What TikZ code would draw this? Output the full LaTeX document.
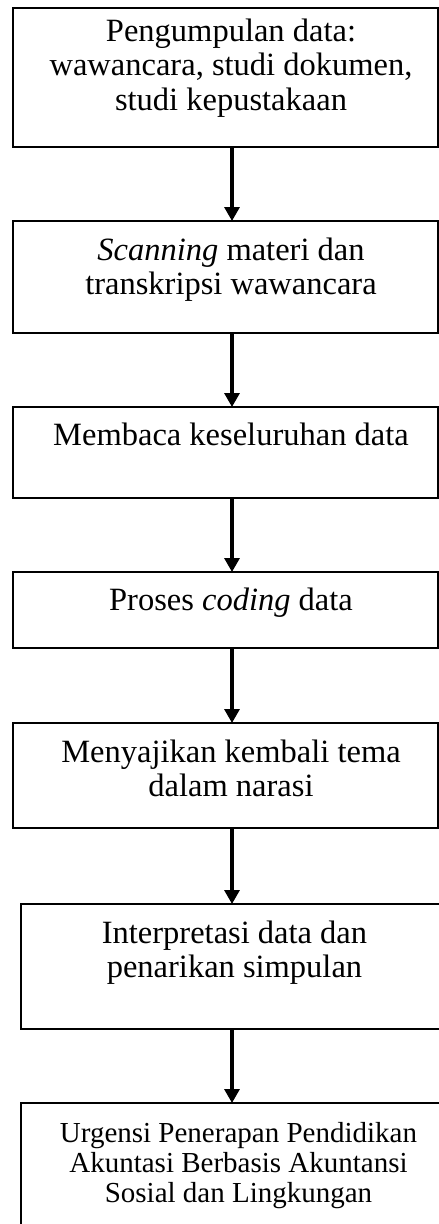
\documentclass[tikz,border=0pt]{standalone}
\usepackage{fontspec}
\setmainfont{Liberation Serif}
\usetikzlibrary{arrows.meta}
\newcommand{\stagetext}[5]{% #1 height, #2 width, #3 first baseline offset, #4 left shift, #5 text
  \parbox[t][#1pt][t]{#2pt}{\centering\leftskip=#4pt plus 1fil\rightskip=0pt plus 1fil\parfillskip=0pt\rule{0pt}{#3pt}#5}}
\tikzset{
  stagebox/.style={draw, line width=1.5pt, inner sep=0pt, outer sep=0pt, anchor=north west,
    font=\fontsize{32.5}{34.5}\selectfont},
  smallstage/.style={stagebox, font=\fontsize{29}{30}\selectfont},
  flowarrow/.style={line width=3.2pt, -{Triangle[width=15pt,length=14pt]}}
}
\begin{document}
\begin{tikzpicture}[x=1pt,y=-1pt]
\clip (0,0) rectangle (439,1224);
\fill[white] (0,0) rectangle (439,1224);
\coordinate (axis) at (232,0);
\node[stagebox] (b1) at (13,8) {\stagetext{139}{425}{33}{11}{Pengumpulan data:\\ wawancara, studi dokumen,\\ studi kepustakaan}};
\node[stagebox] (b2) at (13,221) {\stagetext{112}{425}{39}{11}{\textit{Scanning} materi dan\\ transkripsi wawancara}};
\node[stagebox] (b3) at (13,407) {\stagetext{91}{425}{38}{11}{Membaca keseluruhan data}};
\node[stagebox] (b4) at (13,572) {\stagetext{76}{425}{38}{11}{Proses \textit{coding} data}};
\node[stagebox] (b5) at (13,723) {\stagetext{105}{425}{39}{11}{Menyajikan kembali tema\\ dalam narasi}};
\node[stagebox] (b6) at (21,904) {\stagetext{125}{425}{39}{2}{Interpretasi data dan\\ penarikan simpulan}};
\node[smallstage] (b7) at (21,1103) {\stagetext{157}{425}{39}{10}{Urgensi Penerapan Pendidikan\\ Akuntasi Berbasis Akuntansi\\ Sosial dan Lingkungan}};
\draw[flowarrow] (b1.south -| axis) -- (b2.north -| axis);
\draw[flowarrow] (b2.south -| axis) -- (b3.north -| axis);
\draw[flowarrow] (b3.south -| axis) -- (b4.north -| axis);
\draw[flowarrow] (b4.south -| axis) -- (b5.north -| axis);
\draw[flowarrow] (b5.south -| axis) -- (b6.north -| axis);
\draw[flowarrow] (b6.south -| axis) -- (b7.north -| axis);
\end{tikzpicture}
\end{document}
